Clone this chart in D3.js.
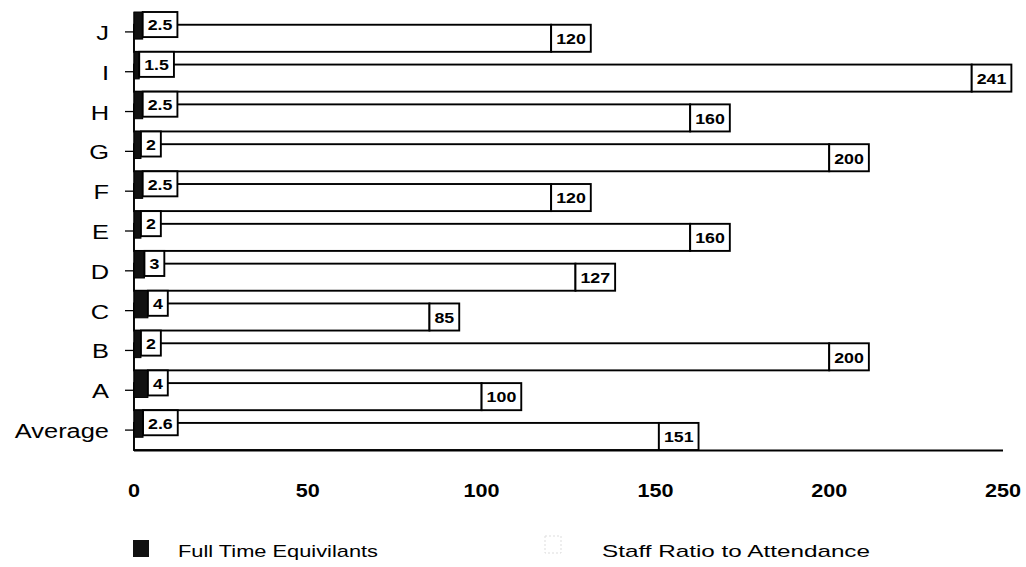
<!DOCTYPE html>
<html>
<head>
<meta charset="utf-8">
<script src="https://cdn.jsdelivr.net/npm/d3@7"></script>
<style>
  html, body { margin: 0; padding: 0; background: #fff; }
  svg { display: block; }
  text { font-family: "Liberation Sans", Arial, Helvetica, sans-serif; fill: #000; }
</style>
</head>
<body>
<svg id="chart" width="1026" height="567"></svg>
<script>
// Sites listed top to bottom
const categories = ["J", "I", "H", "G", "F", "E", "D", "C", "B", "A", "Average"];
// Full Time Equivilants per site
const fteValues = [2.5, 1.5, 2.5, 2, 2.5, 2, 3, 4, 2, 4, 2.6];
// Staff ratio to attendance per site
const ratioValues = [120, 241, 160, 200, 120, 160, 127, 85, 200, 100, 151];
// Value axis ticks
const xTicks = [0, 50, 100, 150, 200, 250];
const seriesNames = ["Full Time Equivilants", "Staff Ratio to Attendance"];

const svg = d3.select("#chart");
const SX = 1.27; // horizontal stretch used for all lettering
const LINE = 1.9;

const x = d3.scaleLinear().domain([0, 250]).range([134, 1003]);
const y = d3.scaleBand().domain(categories).range([12, 450]);
const bw = y.bandwidth();
const barH = bw * 0.68;
const ratioOffset = bw - barH;

const rows = categories.map((c, i) => ({ cat: c, fte: fteValues[i], ratio: ratioValues[i] }));

// helper: stretched text anchored at (px, py)
function label(g, px, py, str, opts) {
  const t = g.append("text")
    .attr("transform", `translate(${px},${py}) scale(${opts.sx || SX},1)`)
    .attr("text-anchor", opts.anchor || "start")
    .attr("dominant-baseline", "central")
    .style("font-size", opts.size + "px")
    .style("font-weight", opts.weight || "normal")
    .text(str);
  if (opts.length) t.attr("textLength", opts.length).attr("lengthAdjust", "spacingAndGlyphs");
  return t;
}

// value axis line along the bottom of the plot
svg.append("line")
  .attr("x1", x(0)).attr("x2", x(250))
  .attr("y1", 450.5).attr("y2", 450.5)
  .attr("stroke", "#000").attr("stroke-width", LINE);

// category axis line and ticks
svg.append("line")
  .attr("x1", x(0)).attr("x2", x(0))
  .attr("y1", 12).attr("y2", 450)
  .attr("stroke", "#000").attr("stroke-width", 1);

const catG = svg.append("g");
rows.forEach(d => {
  const cy = y(d.cat) + bw / 2;
  catG.append("line")
    .attr("x1", x(0) - 9).attr("x2", x(0))
    .attr("y1", cy).attr("y2", cy)
    .attr("stroke", "#000").attr("stroke-width", 1.3);
  label(catG, 109, cy + 1, d.cat, { anchor: "end", size: 20 });
});

// staff ratio bars (white, outlined)
const ratioG = svg.append("g");
ratioG.selectAll("rect").data(rows).join("rect")
  .attr("x", x(0))
  .attr("y", d => y(d.cat) + ratioOffset)
  .attr("width", d => x(d.ratio) - x(0))
  .attr("height", barH)
  .attr("fill", "#fff")
  .attr("stroke", "#000")
  .attr("stroke-width", LINE);

// staff ratio value boxes at the bar ends
rows.forEach(d => {
  const top = y(d.cat) + ratioOffset;
  const g = ratioG.append("g");
  const box = g.append("rect");
  const t = label(g, 0, 0, String(d.ratio), { size: 14, weight: "bold", anchor: "middle" });
  const w = t.node().getComputedTextLength() * SX + 10;
  box.attr("x", x(d.ratio)).attr("y", top).attr("width", w).attr("height", barH)
    .attr("fill", "#fff").attr("stroke", "#000").attr("stroke-width", LINE);
  t.attr("transform", `translate(${x(d.ratio) + w / 2},${top + barH / 2 + 1}) scale(${SX},1)`);
});

// full time equivilant bars (dark)
const fteG = svg.append("g");
fteG.selectAll("rect").data(rows).join("rect")
  .attr("x", x(0))
  .attr("y", d => y(d.cat))
  .attr("width", d => x(d.fte) - x(0))
  .attr("height", barH)
  .attr("fill", "#111")
  .attr("stroke", "#000")
  .attr("stroke-width", 1);

// FTE value boxes beside the dark bars
rows.forEach(d => {
  const top = y(d.cat);
  const g = fteG.append("g");
  const box = g.append("rect");
  const t = label(g, 0, 0, String(d.fte), { size: 14, weight: "bold", anchor: "middle" });
  const w = t.node().getComputedTextLength() * SX + 10;
  box.attr("x", x(d.fte)).attr("y", top).attr("width", w).attr("height", barH - 2)
    .attr("fill", "#fff").attr("stroke", "#000").attr("stroke-width", LINE);
  t.attr("transform", `translate(${x(d.fte) + w / 2},${top + barH / 2}) scale(${SX},1)`);
});

// value axis tick labels
const tickG = svg.append("g");
xTicks.forEach(v => {
  label(tickG, x(v), 491, String(v), { anchor: "middle", size: 18, weight: "bold", sx: 1.2 });
});

// legend
const legG = svg.append("g");
legG.append("rect").attr("x", 133).attr("y", 540).attr("width", 16).attr("height", 17)
  .attr("fill", "#111");
label(legG, 178, 551, seriesNames[0], { size: 17, length: 200, sx: 1 });
legG.append("rect").attr("x", 545).attr("y", 536).attr("width", 16).attr("height", 17)
  .attr("fill", "#fff").attr("stroke", "#ddd").attr("stroke-width", 1).attr("stroke-dasharray", "2,2");
label(legG, 602, 551, seriesNames[1], { size: 17, length: 268, sx: 1 });
</script>
</body>
</html>
